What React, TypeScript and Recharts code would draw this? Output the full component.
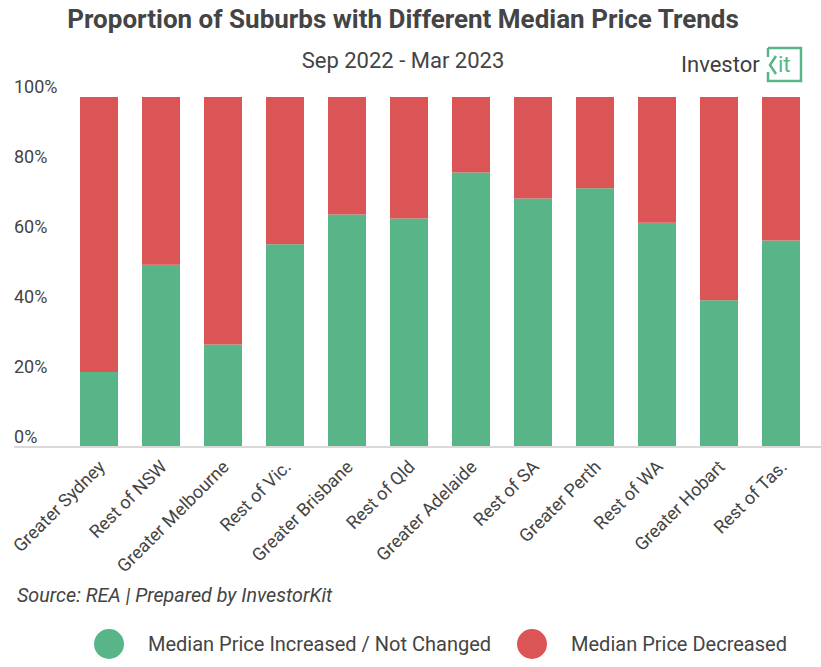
import React from 'react';
import { BarChart, Bar, XAxis, YAxis } from 'recharts';

const regions = [
  'Greater Sydney',
  'Rest of NSW',
  'Greater Melbourne',
  'Rest of Vic.',
  'Greater Brisbane',
  'Rest of Qld',
  'Greater Adelaide',
  'Rest of SA',
  'Greater Perth',
  'Rest of WA',
  'Greater Hobart',
  'Rest of Tas.',
];

// share of suburbs where median price went up or held (%)
const increased = [21.4, 52.1, 29.3, 57.9, 66.4, 65.3, 78.4, 71.0, 73.9, 64.1, 41.9, 59.0];
const decreased = increased.map((v) => +(100 - v).toFixed(1));

const yTicks = [0, 20, 40, 60, 80, 100];

const series = [
  { key: 'increased', name: 'Median Price Increased / Not Changed', color: '#58b588' },
  { key: 'decreased', name: 'Median Price Decreased', color: '#dc5556' },
];

const data = regions.map((region, i) => ({
  region,
  increased: increased[i],
  decreased: decreased[i],
}));

const FONT = 'Roboto, "Noto Sans", sans-serif';
const TEXT = '#444444';

const YTick = (props: any) => {
  const { y, payload } = props;
  return (
    <text x={14} y={y - 10} dy="0.35em" textAnchor="start" fontSize={18} fill={TEXT} fontFamily={FONT}>
      {payload.value}%
    </text>
  );
};

const XTick = (props: any) => {
  const { x, y, payload } = props;
  return (
    <g transform={`translate(${x + 7},${y + 13})`}>
      <text textAnchor="end" transform="rotate(-45)" fontSize={18} fill={TEXT} fontFamily={FONT}>
        {payload.value}
      </text>
    </g>
  );
};

const Logo = () => (
  <svg width={130} height={40} style={{ position: 'absolute', left: 675, top: 44 }}>
    <text x={6} y={28} fontSize={22} fill="#3f3f3f" fontFamily={FONT}>
      Investor
    </text>
    <path d="M93 4 H126 V37 H93 V28 M93 4 V13" stroke="#58b588" strokeWidth={2.5} fill="none" />
    <path d="M101 12 L95 21 L101 30" stroke="#58b588" strokeWidth={2.5} fill="none" />
    <text x={103} y={28} fontSize={22} fill="#58b588" fontFamily={FONT}>
      it
    </text>
  </svg>
);

export default function App() {
  return (
    <div style={{ position: 'absolute', left: 0, top: 0, width: 821, height: 667, background: '#fff', fontFamily: FONT }}>
      <div style={{ position: 'absolute', left: 0, top: 4, width: 806, textAlign: 'center', fontSize: 26, fontWeight: 700, color: TEXT }}>
        Proportion of Suburbs with Different Median Price Trends
      </div>
      <div style={{ position: 'absolute', left: 0, top: 48, width: 806, textAlign: 'center', fontSize: 22, color: TEXT }}>
        Sep 2022 - Mar 2023
      </div>
      <Logo />
      <BarChart width={821} height={667} data={data} margin={{ top: 97, right: 0, left: 13, bottom: 0 }} barSize={38}>
        <YAxis
          width={1}
          domain={[0, 100]}
          ticks={yTicks}
          axisLine={false}
          tickLine={false}
          tick={<YTick />}
        />
        <XAxis
          dataKey="region"
          height={220}
          interval={0}
          padding={{ left: 54, right: 9 }}
          axisLine={{ stroke: '#d9d9d9', strokeWidth: 2 }}
          tickLine={false}
          tick={<XTick />}
        />
        {series.map((s) => (
          <Bar key={s.key} dataKey={s.key} name={s.name} stackId="a" fill={s.color} isAnimationActive={false} />
        ))}
      </BarChart>
      <div style={{ position: 'absolute', left: 17, top: 584, fontSize: 19.7, fontStyle: 'italic', color: TEXT }}>
        Source: REA | Prepared by InvestorKit
      </div>
      <div style={{ position: 'absolute', left: 94, top: 629, display: 'flex', alignItems: 'center' }}>
        {series.map((s, i) => (
          <div key={s.key} style={{ display: 'flex', alignItems: 'center', marginRight: i === 0 ? 26 : 0 }}>
            <span style={{ width: 30, height: 30, borderRadius: '50%', background: s.color, display: 'inline-block' }} />
            <span style={{ marginLeft: 24, fontSize: 20, color: TEXT }}>{s.name}</span>
          </div>
        ))}
      </div>
    </div>
  );
}
